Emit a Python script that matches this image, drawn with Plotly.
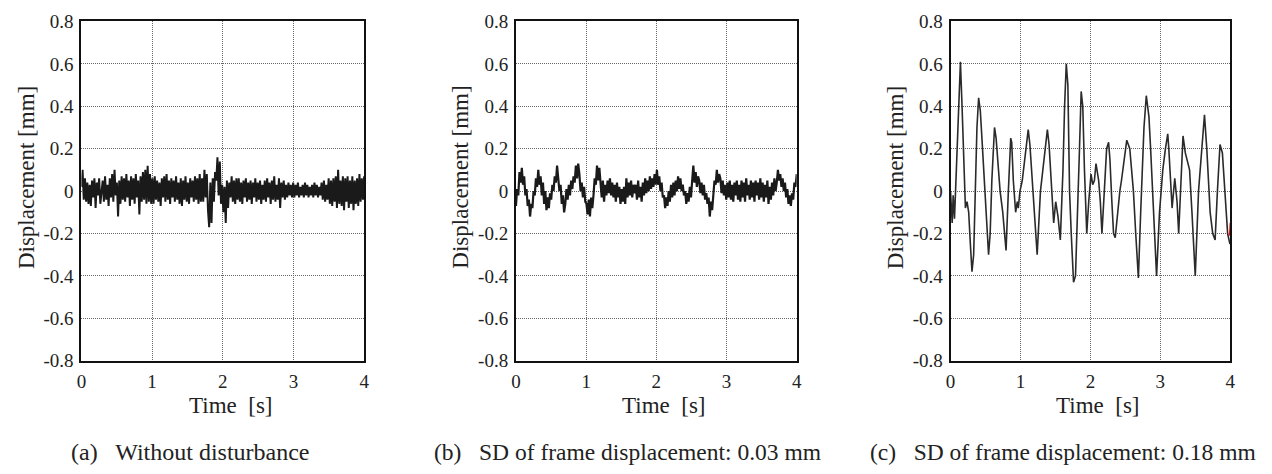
import numpy as np
import plotly.graph_objects as go

# ---------------- data ----------------
time_ticks = [0, 1, 2, 3, 4]
disp_ticks = [0.8, 0.6, 0.4, 0.2, 0, -0.2, -0.4, -0.6, -0.8]
disp_tick_labels = ["0.8", "0.6", "0.4", "0.2", "0", "-0.2", "-0.4", "-0.6", "-0.8"]

# (a) Without disturbance: displacement samples, evenly spaced over 0-4 s
disp_a = [
    0.02, 0.1, -0.04, 0.06, -0.05, 0.04,
    -0.06, 0.03, -0.07, 0.05, -0.03, 0.06,
    -0.08, 0.04, -0.02, 0.06, -0.06, 0.02,
    0.05, -0.05, 0.07, -0.04, 0.03, -0.07,
    0.06, -0.03, 0.08, -0.05, 0.1, -0.02,
    0.04, -0.12, 0.05, -0.06, 0.07, -0.04,
    0.06, -0.05, 0.08, -0.03, 0.05, -0.07,
    0.07, -0.04, 0.06, -0.06, 0.08, -0.03,
    0.05, -0.11, 0.07, -0.05, 0.09, -0.04,
    0.1, -0.06, 0.12, -0.05, 0.08, -0.06,
    0.06, -0.06, 0.07, -0.04, 0.05, -0.05,
    0.04, -0.07, 0.06, -0.03, 0.07, -0.05,
    0.08, -0.04, 0.05, -0.06, 0.06, -0.03,
    0.05, -0.05, 0.07, -0.04, 0.04, -0.06,
    0.06, -0.07, 0.05, -0.04, 0.07, -0.05,
    0.04, -0.06, 0.06, -0.03, 0.05, -0.05,
    0.07, -0.04, 0.06, -0.06, 0.08, -0.05,
    0.06, -0.05, 0.1, -0.03, 0.08, -0.09,
    -0.17, 0.04, -0.15, 0.06, -0.05, 0.09,
    0.05, 0.16, -0.02, 0.14, -0.06, 0.03,
    -0.1, 0.02, -0.15, 0.05, -0.08, 0.04,
    -0.03, 0.07, -0.05, 0.05, -0.06, 0.06,
    -0.04, 0.06, -0.05, 0.04, -0.06, 0.05,
    -0.03, 0.06, -0.05, 0.04, -0.04, 0.05,
    -0.06, 0.04, -0.03, 0.06, -0.05, 0.04,
    -0.04, 0.05, -0.06, 0.03, -0.04, 0.05,
    -0.05, 0.06, -0.03, 0.04, -0.06, 0.05,
    -0.04, 0.07, -0.05, 0.03, -0.04, 0.06,
    -0.08, 0.04, -0.03, 0.05, -0.04, 0.03,
    -0.03, 0.04, -0.02, 0.03, -0.03, 0.04,
    -0.03, 0.03, -0.02, 0.04, -0.03, 0.02,
    -0.02, 0.03, -0.03, 0.04, -0.02, 0.03,
    -0.03, 0.02, -0.02, 0.03, -0.03, 0.04,
    -0.02, 0.03, -0.03, 0.02, -0.02, 0.04,
    -0.04, 0.05, -0.05, 0.03, -0.04, 0.06,
    -0.06, 0.05, -0.07, 0.06, -0.05, 0.07,
    -0.08, 0.1, -0.06, 0.05, -0.07, 0.07,
    -0.09, 0.06, -0.05, 0.07, -0.08, 0.05,
    -0.06, 0.07, -0.09, 0.05, -0.06, 0.06,
    -0.07, 0.08, -0.05, 0.06, -0.04, 0.07,
]

# (b) SD of frame displacement 0.03 mm: samples, evenly spaced over 0-4 s
disp_b = [
    -0.07, 0.01, -0.02, 0.09, 0.04, 0.11,
    0.03, 0.07, -0.02, 0.01, -0.07, -0.04,
    -0.12, -0.06, -0.08, 0.0, -0.02, 0.06,
    0.02, 0.1, 0.03, 0.07, -0.02, 0.04,
    -0.06, 0.0, -0.09, -0.03, -0.08, -0.01,
    -0.04, 0.03, 0.0, 0.07, 0.04, 0.12,
    0.06, 0.0, 0.03, -0.06, -0.02, -0.1,
    -0.06, 0.01, -0.04, 0.03, -0.02, 0.05,
    0.01, 0.07, 0.04, 0.12, 0.06, 0.13,
    0.08, 0.0, 0.04, -0.03, 0.02, -0.05,
    -0.06, -0.11, -0.04, -0.12, -0.03, -0.08,
    -0.02, 0.06, 0.03, 0.12, 0.05, 0.11,
    0.04, -0.03, 0.05, -0.05, 0.03, -0.02,
    0.05, -0.01, 0.06, -0.02, 0.04, -0.03,
    0.03, -0.05, 0.04, -0.03, 0.02, -0.06,
    0.01, -0.05, 0.02, -0.06, 0.06, -0.03,
    0.04, -0.02, 0.05, -0.03, 0.03, -0.01,
    0.03, -0.04, 0.05, -0.03, 0.02, -0.05,
    0.04, -0.02, 0.06, -0.01, 0.05, 0.0,
    0.07, 0.01, 0.06, 0.02, 0.08, 0.03,
    0.1, 0.03, 0.07, 0.0, 0.04, -0.03,
    -0.02, -0.08, -0.03, -0.07, 0.0, -0.05,
    0.03, -0.03, 0.04, -0.02, 0.05, 0.0,
    0.07, 0.01, 0.06, 0.0, 0.03, -0.02,
    0.0, -0.06, -0.01, -0.05, 0.02, -0.03,
    0.05, 0.12, 0.04, 0.09, 0.02, 0.07,
    0.05, -0.01, 0.04, -0.02, 0.03, -0.04,
    -0.01, -0.06, -0.03, -0.12, -0.05, -0.09,
    -0.02, 0.05, 0.03, 0.1, 0.04, 0.08,
    0.06, -0.01, 0.05, -0.02, 0.03, -0.04,
    0.04, -0.03, 0.05, -0.04, 0.03, -0.05,
    0.04, -0.02, 0.05, -0.04, 0.03, -0.05,
    0.05, -0.03, 0.04, -0.05, 0.06, -0.02,
    0.03, -0.04, 0.05, -0.03, 0.04, -0.05,
    0.05, -0.02, 0.04, -0.04, 0.06, -0.03,
    0.04, -0.05, 0.03, -0.03, 0.05, -0.06,
    0.02, -0.04, 0.04, -0.02, 0.06, 0.0,
    0.04, 0.1, 0.05, 0.08, 0.02, 0.06,
    0.0, 0.04, -0.03, 0.01, -0.06, -0.02,
    -0.07, -0.01, -0.04, 0.04, 0.02, 0.08,
]

# (c) SD of frame displacement 0.18 mm: (time, displacement) read points
time_c = [
    0.0, 0.024, 0.038, 0.057, 0.095, 0.118, 0.142, 0.165, 0.189, 0.213,
    0.236, 0.26, 0.284, 0.307, 0.331, 0.355, 0.378, 0.402, 0.426, 0.449,
    0.473, 0.496, 0.52, 0.544, 0.567, 0.591, 0.629, 0.652, 0.686, 0.709,
    0.747, 0.794, 0.827, 0.861, 0.875, 0.898, 0.931, 0.955, 0.969, 0.993,
    1.026, 1.064, 1.078, 1.111, 1.135, 1.158, 1.191, 1.239, 1.286, 1.348,
    1.385, 1.409, 1.442, 1.466, 1.475, 1.504, 1.537, 1.57, 1.608, 1.631,
    1.655, 1.678, 1.702, 1.726, 1.759, 1.787, 1.82, 1.844, 1.868, 1.891,
    1.915, 1.948, 1.976, 2.009, 2.033, 2.057, 2.08, 2.104, 2.118, 2.142,
    2.165, 2.199, 2.232, 2.26, 2.279, 2.307, 2.331, 2.355, 2.388, 2.421,
    2.444, 2.468, 2.52, 2.563, 2.615, 2.648, 2.686, 2.719, 2.766, 2.799,
    2.837, 2.861, 2.908, 2.946, 2.988, 3.035, 3.073, 3.106, 3.121, 3.168,
    3.206, 3.239, 3.262, 3.296, 3.324, 3.357, 3.395, 3.418, 3.452, 3.499,
    3.546, 3.593, 3.631, 3.664, 3.712, 3.749, 3.783, 3.816, 3.853, 3.887,
    3.924, 3.962, 3.995,
]
disp_c = [
    0.0, -0.15, -0.02, -0.13, 0.2, 0.45, 0.61, 0.4, 0.1, -0.08,
    -0.05, -0.1, -0.25, -0.38, -0.3, 0.0, 0.3, 0.44, 0.38, 0.25,
    0.1, 0.0, -0.2, -0.3, -0.2, 0.05, 0.3, 0.25, 0.1, 0.0,
    -0.1, -0.28, 0.0, 0.25, 0.23, 0.05, -0.1, -0.05, -0.08, 0.0,
    0.05, 0.15, 0.2, 0.29, 0.22, 0.1, -0.1, -0.3, 0.0, 0.2,
    0.29, 0.22, 0.05, -0.05, -0.15, -0.05, -0.12, -0.23, 0.1, 0.4,
    0.6, 0.5, 0.0, -0.2, -0.43, -0.4, -0.1, 0.2, 0.47, 0.4,
    0.1, -0.2, -0.05, 0.08, 0.03, 0.05, 0.13, 0.08, 0.05, -0.05,
    -0.2, 0.0, 0.2, 0.23, 0.15, -0.05, -0.2, -0.22, -0.1, 0.0,
    0.05, 0.12, 0.24, 0.2, 0.0, -0.2, -0.41, -0.1, 0.3, 0.45,
    0.35, 0.2, -0.1, -0.4, -0.1, 0.1, 0.2, 0.27, 0.2, -0.08,
    0.06, -0.05, -0.2, 0.1, 0.26, 0.18, 0.13, 0.1, -0.1, -0.4,
    0.0, 0.2, 0.36, 0.2, -0.1, -0.2, -0.23, 0.0, 0.22, 0.18,
    0.0, -0.2, -0.25,
]
# small red segment visible at the very end of panel (c)
time_c_red = [3.99, 4.0]
disp_c_red = [-0.21, -0.15]

captions = [
    "(a)   Without disturbance",
    "(b)   SD of frame displacement: 0.03 mm",
    "(c)   SD of frame displacement: 0.18 mm",
]

# ---------------- figure ----------------
W, H = 1272, 474
FONT = "Liberation Serif, Times New Roman, serif"
TXT = "#222222"

x_domains = [(77 / W, 362 / W), (515 / W, 798 / W), (953 / W, 1235 / W)]
y_domain = (1 - 367 / H, 1 - 12 / H)

time_a = np.linspace(0, 4, len(disp_a))
time_b = np.linspace(0, 4, len(disp_b))

fig = go.Figure()
fig.add_trace(go.Scatter(x=time_a, y=disp_a, mode="lines",
                         line=dict(color="#1a1a1a", width=2.0),
                         xaxis="x", yaxis="y", showlegend=False))
fig.add_trace(go.Scatter(x=time_b, y=disp_b, mode="lines",
                         line=dict(color="#1a1a1a", width=2.2),
                         xaxis="x2", yaxis="y2", showlegend=False))
fig.add_trace(go.Scatter(x=time_c, y=disp_c, mode="lines",
                         line=dict(color="#2a2a2a", width=1.6),
                         xaxis="x3", yaxis="y3", showlegend=False))
fig.add_trace(go.Scatter(x=time_c_red, y=disp_c_red, mode="lines",
                         line=dict(color="red", width=1.4),
                         xaxis="x3", yaxis="y3", showlegend=False, cliponaxis=False))

axis_common = dict(
    showline=True, mirror=True, linecolor="#111111", linewidth=2,
    showgrid=True, gridcolor="#666666", gridwidth=1, griddash="1px,1px",
    zeroline=False, ticks="",
    tickfont=dict(family=FONT, size=19, color=TXT),
)

layout = dict(
    width=W, height=H,
    margin=dict(l=0, r=0, t=0, b=0),
    paper_bgcolor="white", plot_bgcolor="white",
    font=dict(family=FONT, color=TXT, size=19),
    showlegend=False,
)
annotations = []
for i, xd in enumerate(x_domains):
    sfx = "" if i == 0 else str(i + 1)
    layout["xaxis" + sfx] = dict(
        domain=list(xd), range=[0, 4], tickvals=time_ticks,
        ticktext=[str(t) for t in time_ticks],
        anchor="y" + sfx, ticklabelstandoff=2, **axis_common,
    )
    layout["yaxis" + sfx] = dict(
        domain=list(y_domain), range=[-0.8, 0.8], tickvals=disp_ticks,
        ticktext=disp_tick_labels, anchor="x" + sfx, ticklabelstandoff=2,
        **axis_common,
    )
    left_px = xd[0] * W
    right_px = xd[1] * W
    # y-axis title
    annotations.append(dict(
        text="Displacement [mm]", textangle=-90, showarrow=False,
        x=(left_px - 56) / W, y=1 - 175 / H, xref="paper", yref="paper",
        xanchor="center", yanchor="middle",
        font=dict(family=FONT, size=23, color=TXT),
    ))
    # x-axis title
    annotations.append(dict(
        text="Time  [s]", showarrow=False,
        x=((left_px + right_px) / 2 + 8) / W, y=1 - 414 / H,
        xref="paper", yref="paper", xanchor="center", yanchor="middle",
        font=dict(family=FONT, size=23, color=TXT),
    ))

caption_x = [65, 430, 870]
caption_sizes = [24, 23.5, 23.5]
for cx, cap, cs in zip(caption_x, captions, caption_sizes):
    annotations.append(dict(
        text=cap, showarrow=False, x=cx / W, y=1 - 462 / H,
        xref="paper", yref="paper", xanchor="left", yanchor="middle",
        font=dict(family=FONT, size=cs, color=TXT),
    ))

layout["annotations"] = annotations
fig.update_layout(**layout)
fig.write_html("out.html")
